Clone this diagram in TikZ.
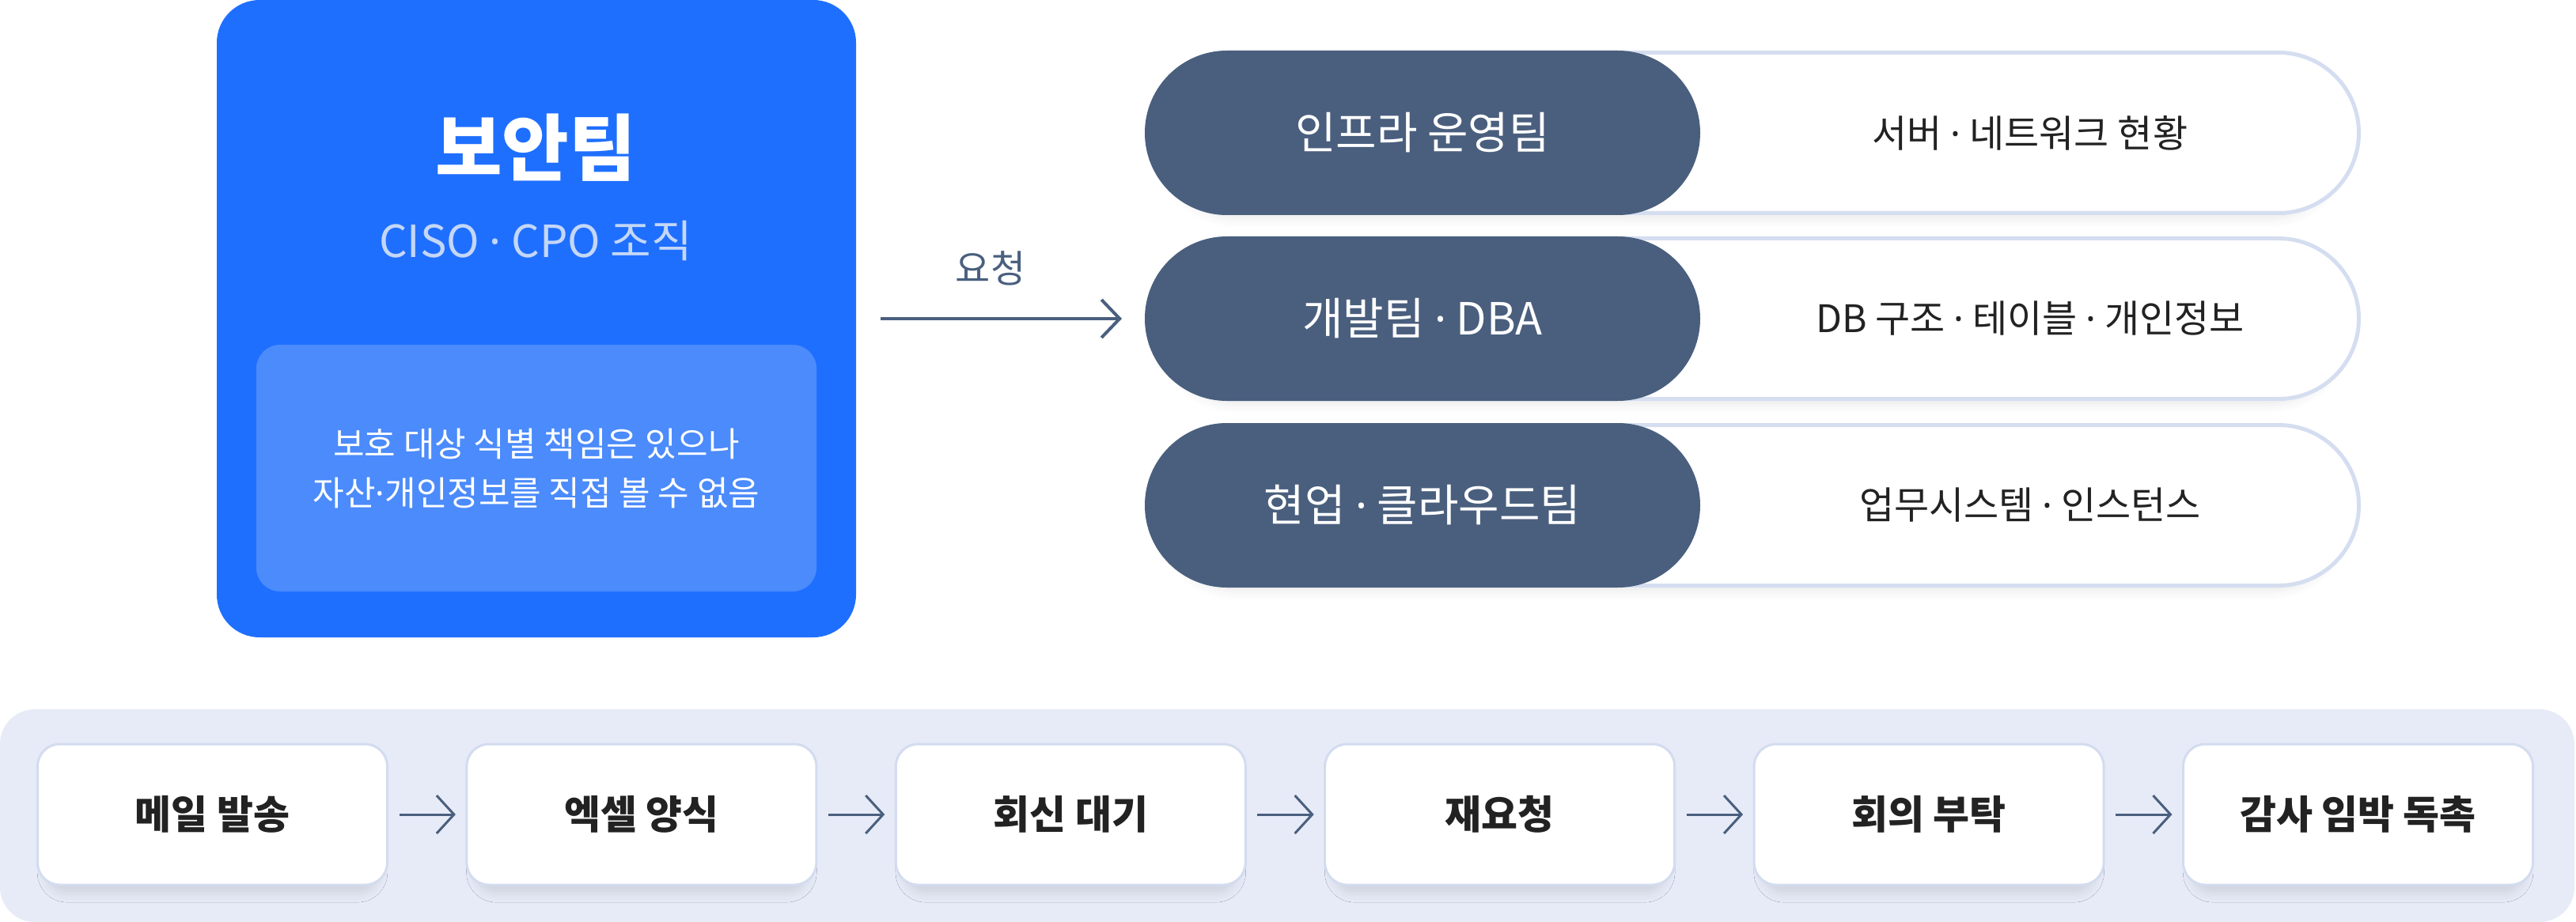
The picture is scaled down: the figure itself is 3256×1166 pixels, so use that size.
\documentclass[tikz,border=0pt]{standalone}
\usepackage{fontspec}
\setmainfont{Noto Sans CJK KR}
\newfontfamily\dotfont{Noto Sans}
\newcommand\md{{\dotfont ·}}
\usetikzlibrary{arrows.meta,shadows.blur}
\definecolor{secblue}{HTML}{1F6FFF}
\definecolor{innerblue}{HTML}{4B8BFB}
\definecolor{subtxt}{HTML}{C4D7F8}
\definecolor{slate}{HTML}{4A5F7E}
\definecolor{pillborder}{HTML}{D5DEF0}
\definecolor{bandcol}{HTML}{E6EBF7}
\definecolor{stepborder}{HTML}{D3DCEF}
\definecolor{ink}{HTML}{222222}
\begin{document}
\begin{tikzpicture}[x=0.5pt,y=-0.5pt,
  every node/.style={inner sep=0pt, outer sep=0pt},
  secbox/.style={fill=secblue, rounded corners=27pt, minimum width=404pt, minimum height=403pt},
  inbox/.style={fill=innerblue, rounded corners=15pt, minimum width=354pt, minimum height=156pt,
    align=center, text=white, font=\fontsize{21.5}{31}\selectfont},
  outerpill/.style={fill=white, draw=pillborder, line width=2.5pt, rounded corners=50.75pt,
    minimum width=766pt, minimum height=101.5pt,
    blur shadow={shadow xshift=0pt, shadow yshift=-5pt, shadow scale=0.98, shadow blur radius=6pt, shadow opacity=8}},
  darkpill/.style={fill=slate, rounded corners=52pt, minimum width=351pt, minimum height=104pt,
    text=white, font=\fontsize{28}{32}\selectfont},
  righttxt/.style={text=ink, font=\fontsize{24}{28}\selectfont},
  bandbox/.style={fill=bandcol, rounded corners=22pt, minimum width=1627pt, minimum height=134.5pt},
  stepbox/.style={fill=white, draw=stepborder, line width=1.5pt, rounded corners=14pt,
    minimum width=221pt, minimum height=89pt, text=ink, font=\bfseries\fontsize{25}{28}\selectfont,
    blur shadow={shadow xshift=0pt, shadow yshift=-8pt, shadow scale=0.95, shadow blur radius=6pt, shadow opacity=10}},
  reqarrow/.style={draw=slate, line width=2pt, -{Straight Barb[length=11.5pt,width=24pt]}},
  flowarrow/.style={draw=slate, line width=1.5pt, -{Straight Barb[length=11pt,width=24pt]}}
]
\useasboundingbox (0,0) rectangle (3256,1166);

% security team box
\node[secbox] (sec) at (678,403) {};
\node[inbox] (note) at (678,592) {보호 대상 식별 책임은 있으나\\자산\md 개인정보를 직접 볼 수 없음};
\node[text=white, font=\bfseries\fontsize{46}{50}\selectfont] (title) at (677,187) {보안팀};
\node[text=subtxt, font=\fontsize{28}{30}\selectfont] (sub) at (677,305) {CISO \md{} CPO 조직};

% team pills
\node[outerpill] (o1) at (2215.5,168) {};
\node[outerpill] (o2) at (2215.5,403) {};
\node[outerpill] (o3) at (2215.5,639) {};
\node[darkpill] (infra) at (1798,168) {인프라 운영팀};
\node[darkpill] (dba) at (1798,403) {개발팀 \md{} DBA};
\node[darkpill] (cloud) at (1798,639) {현업 \md{} 클라우드팀};
\node[righttxt] (r1) at (2566,168) {서버 \md{} 네트워크 현황};
\node[righttxt] (r2) at (2566,403) {DB 구조 \md{} 테이블 \md{} 개인정보};
\node[righttxt] (r3) at (2566,639) {업무시스템 \md{} 인스턴스};

% request arrow
\draw[reqarrow] ([xshift=15.5pt]sec.east) -- ([xshift=-14.5pt]dba.west);
\node[text=slate, font=\fontsize{24}{28}\selectfont] (req) at (1252,339) {요청};

% bottom band with steps
\node[bandbox] (band) at (1627,1031.5) {};
\node[stepbox] (s1) at (268.5,1030) {메일 발송};
\node[stepbox] (s2) at (810.9,1030) {엑셀 양식};
\node[stepbox] (s3) at (1353.3,1030) {회신 대기};
\node[stepbox] (s4) at (1895.7,1030) {재요청};
\node[stepbox] (s5) at (2438.1,1030) {회의 부탁};
\node[stepbox] (s6) at (2980.5,1030) {감사 임박 독촉};
\foreach \a/\b in {s1/s2,s2/s3,s3/s4,s4/s5,s5/s6}
  \draw[flowarrow] ([xshift=7.5pt]\a.east) -- ([xshift=-7pt]\b.west);
\end{tikzpicture}
\end{document}
